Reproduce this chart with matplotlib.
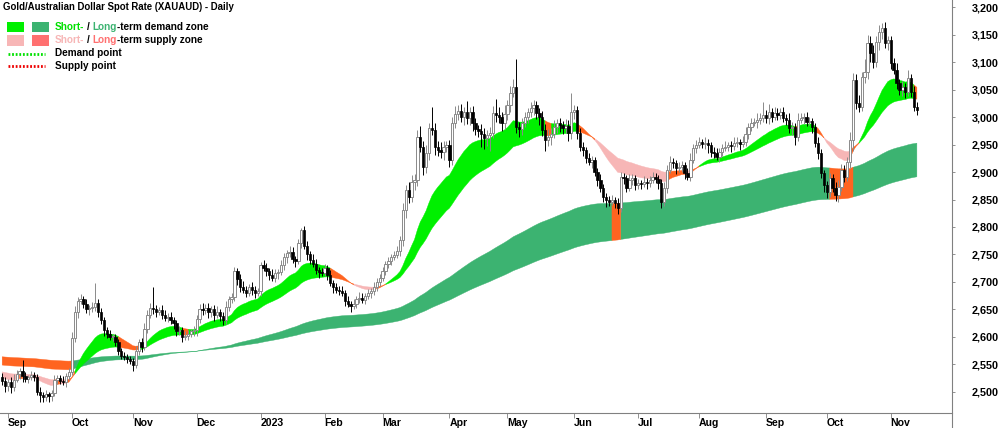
import matplotlib
matplotlib.use("Agg")
import matplotlib.pyplot as plt
from matplotlib.lines import Line2D
from matplotlib.patches import Rectangle
import numpy as np
import pandas as pd

# daily closes (AUD/oz), one list per month
first_day = "2022-08-30"
first_open = 2526
close_aug22 = [2520, 2510]
close_sep22 = [2518, 2508, 2522, 2532, 2538, 2528, 2524, 2526, 2530, 2527, 2500,
               2494, 2490, 2495, 2492, 2497, 2522, 2525, 2520, 2517, 2528, 2536]
close_oct22 = [2598, 2645, 2665, 2668, 2660, 2650, 2652, 2655, 2662, 2645, 2630,
               2612, 2605, 2600, 2600, 2590, 2575, 2565, 2563, 2560, 2556]
close_nov22 = [2549, 2575, 2590, 2582, 2615, 2640, 2652, 2650, 2646, 2648, 2640,
               2635, 2637, 2630, 2625, 2610, 2612, 2600, 2602, 2606, 2610, 2612]
close_dec22 = [2632, 2650, 2648, 2652, 2645, 2650, 2640, 2645, 2638, 2630, 2655,
               2668, 2672, 2720, 2705, 2690, 2685, 2680, 2690, 2685, 2680, 2683]
close_jan23 = [2730, 2726, 2720, 2712, 2708, 2716, 2718, 2730, 2745, 2752, 2755,
               2742, 2738, 2770, 2795, 2766, 2750, 2740, 2733, 2722, 2718, 2716]
close_feb23 = [2725, 2712, 2698, 2690, 2686, 2684, 2680, 2665, 2660, 2656, 2660,
               2668, 2671, 2667, 2674, 2679, 2683, 2690, 2700, 2708]
close_mar23 = [2720, 2732, 2738, 2745, 2749, 2756, 2776, 2831, 2867, 2855, 2882,
               2886, 2964, 2946, 2909, 2934, 2980, 2977, 2946, 2940, 2937, 2946, 2949]
close_apr23 = [2922, 2989, 3006, 3012, 3001, 3010, 2998, 3009, 2989, 2978, 2975,
               2970, 2962, 2968, 2972, 3008, 3004, 3000, 2990, 3005]
close_may23 = [3022, 3044, 3055, 2982, 2978, 2990, 3000, 3009, 3016, 3022, 3007,
               3000, 2977, 2958, 2964, 2970, 2982, 2989, 2985, 2980, 2984, 2971, 3009]
close_jun23 = [3013, 2971, 2946, 2940, 2925, 2918, 2922, 2900, 2886, 2871, 2855,
               2849, 2846, 2849, 2844, 2835, 2891, 2889, 2871, 2886, 2889, 2876]
close_jul23 = [2880, 2878, 2882, 2880, 2886, 2891, 2888, 2880, 2846, 2871, 2904,
               2918, 2916, 2907, 2909, 2913, 2898, 2891, 2922, 2944, 2949]
close_aug23 = [2955, 2952, 2953, 2949, 2937, 2934, 2928, 2937, 2944, 2946, 2949,
               2947, 2953, 2955, 2951, 2955, 2970, 2982, 2989, 2991, 2995, 2998, 3003]
close_sep23 = [2998, 3009, 3000, 3007, 3004, 3009, 2998, 2995, 2980, 2982, 2964,
               2995, 2998, 3000, 2991, 2993, 2982, 2953, 2934, 2898, 2876]
close_oct23 = [2864, 2889, 2871, 2858, 2873, 2904, 2891, 2918, 2958, 3068, 3026,
               3019, 3073, 3082, 3135, 3116, 3101, 3137, 3155, 3162, 3135, 3140]
close_nov23 = [3098, 3086, 3062, 3049, 3055, 3046, 3071, 3046, 3019, 3013]

# wick lengths above / below the candle body
wick_up_aug22 = [8, 6]
wick_dn_aug22 = [8, 10]
wick_up_sep22 = [6, 8, 10, 8, 6, 19, 8, 5, 8, 6, 5, 8, 6, 8, 5, 6, 8, 5, 6, 8, 6, 8]
wick_dn_sep22 = [8, 10, 6, 5, 8, 10, 6, 8, 5, 8, 6, 12, 8, 6, 10, 8, 5, 8, 6, 5, 8, 6]
wick_up_oct22 = [10, 12, 8, 10, 6, 8, 6, 8, 36, 6, 8, 6, 5, 8, 6, 5, 6, 5, 8, 6, 5]
wick_dn_oct22 = [6, 8, 10, 6, 8, 6, 10, 6, 8, 8, 6, 10, 8, 6, 8, 6, 8, 6, 6, 8, 6]
wick_up_nov22 = [6, 8, 6, 8, 10, 8, 10, 38, 8, 6, 10, 8, 6, 8, 6, 5, 8, 6, 8, 6, 5, 8]
wick_dn_nov22 = [12, 6, 8, 10, 6, 8, 6, 8, 10, 6, 8, 6, 8, 6, 10, 8, 6, 10, 6, 8, 6, 8]
wick_up_dec22 = [8, 10, 12, 8, 10, 6, 8, 12, 6, 8, 10, 6, 8, 8, 6, 10, 12, 8, 6, 10, 8, 6]
wick_dn_dec22 = [10, 6, 8, 6, 10, 8, 12, 6, 10, 8, 6, 8, 6, 6, 10, 8, 6, 8, 6, 8, 10, 6]
wick_up_jan23 = [6, 10, 8, 6, 12, 8, 6, 10, 8, 6, 10, 8, 6, 8, 4, 6, 8, 6, 10, 8, 6, 8]
wick_dn_jan23 = [8, 6, 10, 8, 6, 8, 10, 6, 8, 10, 6, 8, 10, 6, 8, 6, 10, 8, 6, 8, 10, 6]
wick_up_feb23 = [8, 6, 10, 6, 8, 6, 8, 6, 10, 6, 8, 6, 10, 8, 6, 8, 6, 10, 8, 6]
wick_dn_feb23 = [6, 8, 6, 10, 6, 8, 6, 8, 6, 10, 6, 8, 6, 6, 8, 6, 8, 6, 6, 8]
wick_up_mar23 = [8, 6, 8, 6, 8, 10, 8, 12, 10, 15, 12, 10, 12, 20, 10, 15, 10, 39, 12, 10, 15, 10, 8]
wick_dn_mar23 = [6, 8, 6, 8, 6, 6, 8, 10, 15, 12, 10, 15, 12, 10, 15, 10, 12, 10, 15, 10, 12, 15, 10]
wick_up_apr23 = [10, 12, 15, 10, 12, 8, 20, 10, 12, 10, 8, 12, 10, 8, 10, 12, 25, 15, 10, 18]
wick_dn_apr23 = [12, 10, 8, 12, 10, 15, 10, 12, 15, 10, 12, 25, 20, 15, 30, 10, 12, 10, 15, 12]
wick_up_may23 = [10, 12, 15, 50, 10, 8, 10, 8, 12, 10, 8, 10, 12, 10, 15, 10, 12, 8, 10, 8, 12, 10, 35]
wick_dn_may23 = [10, 12, 8, 10, 15, 10, 8, 10, 8, 12, 10, 15, 12, 20, 10, 15, 8, 10, 12, 10, 8, 15, 10]
wick_up_jun23 = [10, 8, 10, 8, 6, 10, 8, 6, 8, 10, 8, 6, 8, 10, 6, 8, 10, 8, 6, 10, 8, 6]
wick_dn_jun23 = [12, 10, 8, 10, 8, 6, 10, 8, 12, 8, 10, 12, 8, 6, 10, 12, 8, 10, 8, 6, 10, 8]
wick_up_jul23 = [8, 6, 10, 8, 6, 10, 8, 6, 8, 10, 8, 12, 8, 6, 10, 8, 6, 10, 12, 8, 10]
wick_dn_jul23 = [6, 8, 6, 10, 8, 6, 8, 10, 12, 8, 10, 6, 8, 10, 6, 8, 10, 6, 8, 6, 10]
wick_up_aug23 = [8, 6, 10, 8, 6, 8, 10, 6, 8, 10, 6, 8, 10, 8, 6, 10, 12, 8, 10, 8, 12, 10, 25]
wick_dn_aug23 = [6, 8, 10, 15, 10, 8, 6, 10, 8, 6, 8, 10, 6, 8, 10, 6, 8, 10, 8, 6, 10, 8, 6]
wick_up_sep23 = [10, 15, 8, 12, 10, 8, 10, 8, 12, 10, 8, 12, 10, 8, 10, 8, 6, 8, 10, 8, 6]
wick_dn_sep23 = [8, 10, 8, 6, 10, 8, 6, 10, 8, 12, 15, 8, 6, 10, 8, 6, 10, 8, 10, 8, 12]
wick_up_oct23 = [8, 10, 8, 10, 12, 10, 8, 10, 15, 12, 10, 15, 10, 24, 15, 12, 15, 10, 12, 10, 12, 8]
wick_dn_oct23 = [12, 10, 8, 10, 12, 8, 10, 8, 10, 20, 12, 10, 8, 10, 12, 15, 12, 10, 15, 12, 10, 12]
wick_up_nov23 = [8, 10, 12, 8, 10, 8, 15, 8, 10, 8]
wick_dn_nov23 = [10, 8, 10, 8, 10, 12, 8, 10, 8, 10]

# zone ribbons: EMA spans and the values they carried into the first bar
st_spans = (20, 40)
lt_spans = (150, 250)
st_seed = (2525, 2537)
lt_seed = (2549, 2564)

# stretches where the long-term zone is shown as supply
lt_supply_from = ["2022-08-30", "2023-06-20", "2023-10-03"]
lt_supply_to = ["2022-09-30", "2023-06-22", "2023-10-12"]

months = ["aug22", "sep22", "oct22", "nov22", "dec22", "jan23", "feb23", "mar23",
          "apr23", "may23", "jun23", "jul23", "aug23", "sep23", "oct23", "nov23"]
g = globals()
close = np.array(sum((g["close_" + m] for m in months), []), float)
wup = np.array(sum((g["wick_up_" + m] for m in months), []), float)
wdn = np.array(sum((g["wick_dn_" + m] for m in months), []), float)
if not (len(close) == len(wup) == len(wdn)):
    raise SystemExit(f"length mismatch {len(close)} {len(wup)} {len(wdn)}")
n = len(close)
opn = np.concatenate([[first_open], close[:-1]])
high = np.maximum(opn, close) + wup
low = np.minimum(opn, close) - wdn
idx = np.arange(n)
dates = pd.bdate_range(first_day, periods=n)


def ema(values, span, seed):
    a = 2.0 / (span + 1)
    out = np.empty(len(values))
    prev = seed
    for i, v in enumerate(values):
        prev += a * (v - prev)
        out[i] = prev
    return out


st_fast, st_slow = (ema(close, s, z) for s, z in zip(st_spans, st_seed))
lt_fast, lt_slow = (ema(close, s, z) for s, z in zip(lt_spans, lt_seed))

st_up = st_fast > st_slow
st_state = np.where(st_up & (close >= st_slow), "dem",
                    np.where(~st_up & (close <= st_slow), "sup", "mix"))
lt_state = np.full(n, "dem", dtype=object)
for a, b in zip(lt_supply_from, lt_supply_to):
    lt_state[(dates >= a) & (dates <= b)] = "mix"

GREEN, DKGREEN, PINK, ORANGE, SALMON = "#00f000", "#3cb371", "#f7b6b6", "#ff6420", "#ff7070"
GREY = "#808080"

plt.rcParams["font.family"] = ["Liberation Sans", "DejaVu Sans"]
plt.rcParams["font.weight"] = "bold"
plt.rcParams["font.size"] = 7

W, H = 1000, 428
fig = plt.figure(figsize=(W / 100, H / 100), dpi=100)
ax = fig.add_axes([0, 15 / H, 952 / W, 413 / H])
ax.set_xlim(-0.755, 327.1)
ax.set_ylim(2461.3, 3213.3)


def fill_runs(lo, hi, state, colours):
    for key, col in colours.items():
        m = state == key
        ext = m.copy()
        ext[1:] |= m[:-1]
        ax.fill_between(idx, lo, hi, where=ext, color=col, lw=0.3, zorder=1)


lo = np.minimum(lt_fast, lt_slow); hi = np.maximum(lt_fast, lt_slow)
fill_runs(lo, hi, lt_state, {"dem": DKGREEN, "mix": ORANGE})
lo = np.minimum(st_fast, st_slow); hi = np.maximum(st_fast, st_slow)
fill_runs(lo, hi, st_state, {"dem": GREEN, "sup": PINK, "mix": ORANGE})

# candles
up = close >= opn
wick_col = np.where(up, "#8a8a8a", "black")
ax.vlines(idx, low, high, colors=wick_col, lw=0.7, zorder=2)
body = np.maximum(np.abs(close - opn), 1.5)
ax.bar(idx[up], body[up], bottom=np.minimum(opn, close)[up], width=0.8,
       facecolor="white", edgecolor="#8a8a8a", lw=0.7, zorder=3)
ax.bar(idx[~up], body[~up], bottom=np.minimum(opn, close)[~up], width=0.8,
       facecolor="black", edgecolor="black", lw=0.5, zorder=3)

# axes cosmetics
for s in ("top", "left", "right"):
    ax.spines[s].set_visible(False)
ax.spines["bottom"].set_color(GREY)
ax.spines["bottom"].set_linewidth(0.8)
fig.add_artist(Line2D([952 / W, 952 / W], [0, 1], transform=fig.transFigure,
                      color=GREY, lw=0.8))

yt = list(range(2500, 3201, 50))
ax.yaxis.tick_right()
ax.set_yticks(yt)
ax.set_yticklabels([f"{v:,}" for v in yt])
ax.tick_params(axis="y", length=2, width=0.6, color=GREY, pad=12, labelsize=7.8)

mstart = [i for i in range(1, n) if dates[i].month != dates[i - 1].month]
ax.set_xticks(mstart)
ax.set_xticklabels(["2023" if dates[i].month == 1 else dates[i].strftime("%b")
                    for i in mstart])
ax.tick_params(axis="x", length=3.5, width=0.6, color=GREY, pad=0.3, labelsize=7.6)
for t in ax.get_xticklabels():
    t.set_horizontalalignment("left")

# title and legend, placed in figure pixels
def fx(x): return x / W
def fy(y): return 1 - y / H

fig.text(fx(3.3), fy(7.5), "Gold/Australian Dollar Spot Rate (XAUAUD) - Daily",
         va="center", ha="left", fontsize=6.9)
for (x0, x1), (y0, y1), col in [((7.3, 24.3), (21.7, 32.3), GREEN),
                                ((31.7, 49), (21.7, 32.3), DKGREEN),
                                ((7.3, 24.3), (35, 45.5), PINK),
                                ((31.7, 49), (35, 45.5), SALMON)]:
    fig.add_artist(Rectangle((fx(x0), fy(y1)), (x1 - x0) / W, (y1 - y0) / H,
                             transform=fig.transFigure, color=col, lw=0))
fig.add_artist(Line2D([fx(7.5), fx(45)], [fy(53.5), fy(53.5)], transform=fig.transFigure,
                      color="#00e000", lw=2, ls=(0, (0.65, 0.65))))
fig.add_artist(Line2D([fx(7.5), fx(45)], [fy(66), fy(66)], transform=fig.transFigure,
                      color="#ee0000", lw=2, ls=(0, (0.65, 0.65))))

renderer = fig.canvas.get_renderer()
space = 2.7


def rich(x, y, parts):
    for txt, col, gap in parts:
        t = fig.text(fx(x), fy(y), txt, color=col, va="center", ha="left", fontsize=7.2)
        x += t.get_window_extent(renderer=renderer).width + gap


rich(55, 27, [("Short-", "#00e000", space), ("/", "black", space),
              ("Long", DKGREEN, 0), ("-term demand zone", "black", 0)])
rich(55, 40.3, [("Short-", PINK, space), ("/", "black", space),
                ("Long", SALMON, 0), ("-term supply zone", "black", 0)])
rich(55, 53.5, [("Demand point", "black", 0)])
rich(55, 66, [("Supply point", "black", 0)])

fig.savefig("out.png", dpi=100)
